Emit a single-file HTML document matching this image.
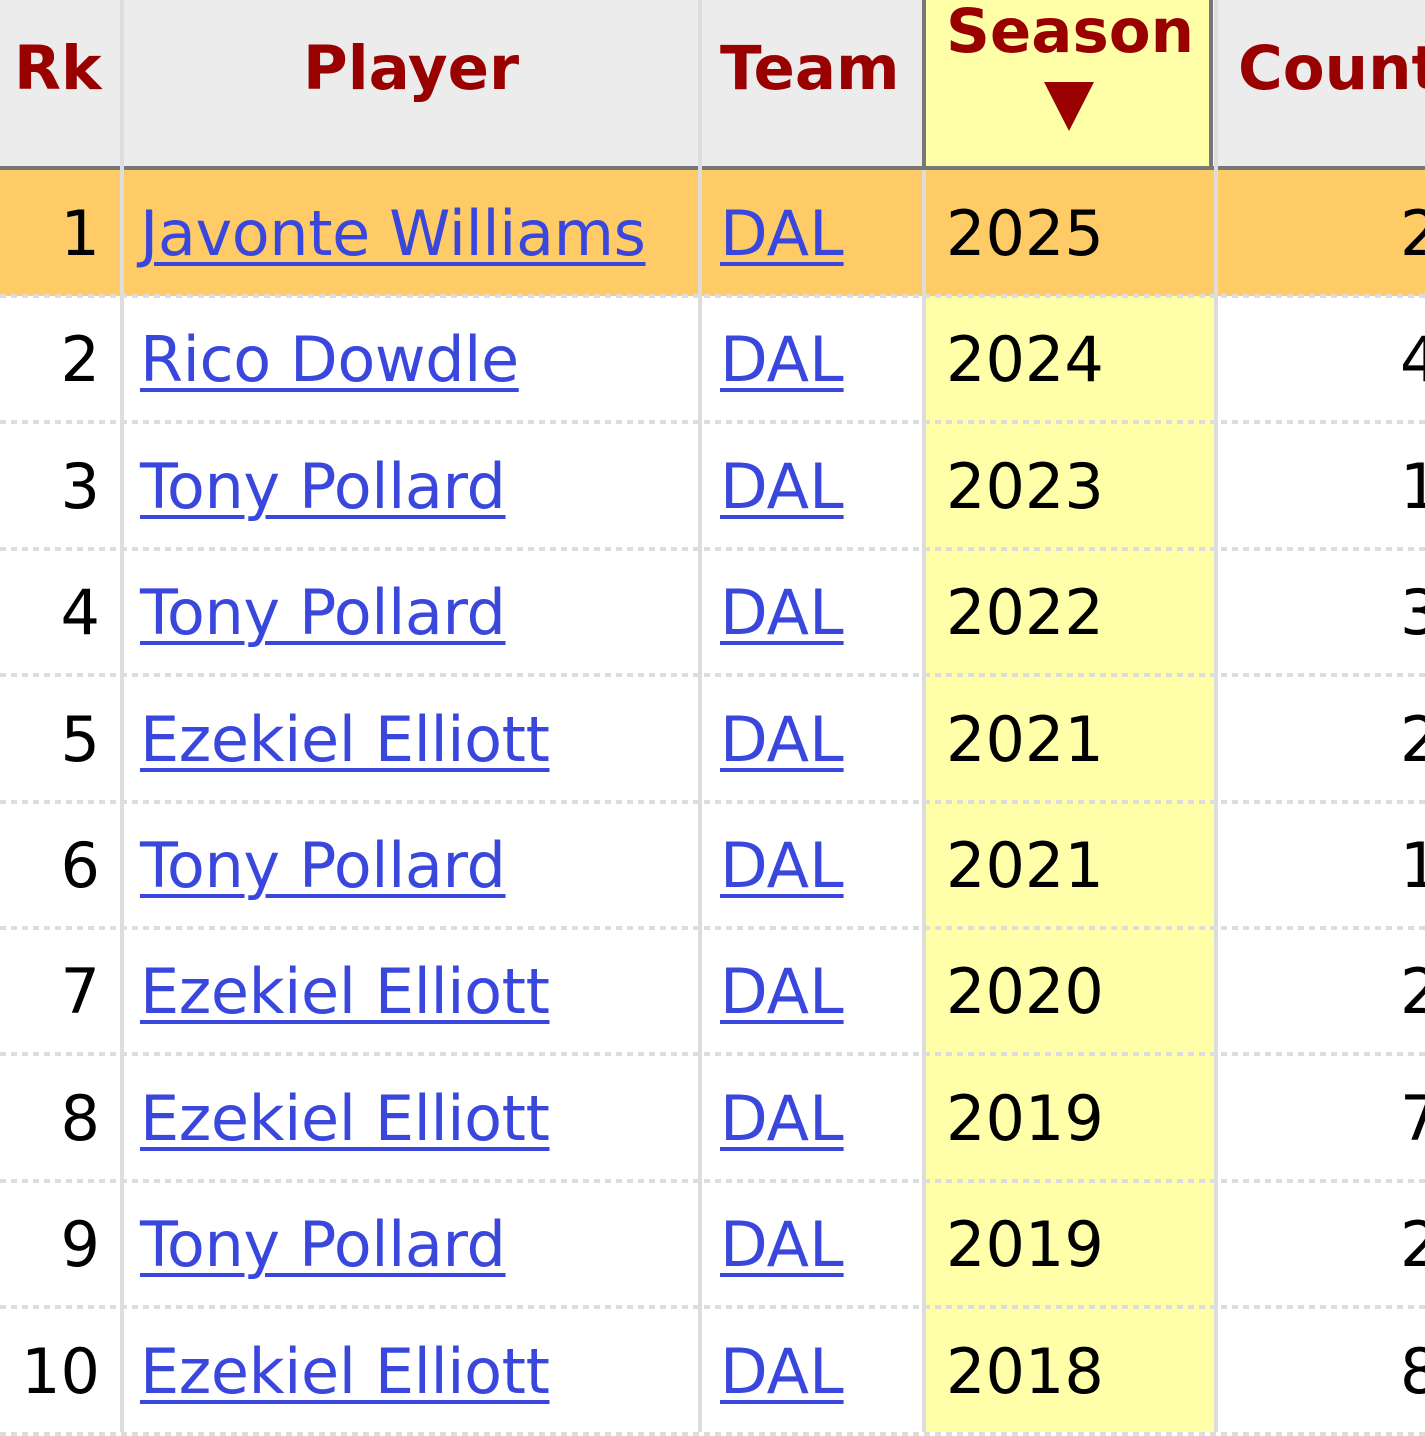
<!DOCTYPE html>
<html><head><meta charset="utf-8"><style>
*{margin:0;padding:0;box-sizing:border-box}
body{width:1425px;height:1432px;overflow:hidden;background:#fff;position:relative;font-family:"DejaVu Sans","Liberation Sans",sans-serif}
.a{position:absolute}
.hd{position:absolute;top:0;height:166px;background:#ececec}
.ht{position:absolute;color:#990000;font-weight:bold;font-size:61px;line-height:1;white-space:nowrap}
.t{position:absolute;font-size:62px;line-height:1;white-space:nowrap;color:#000}
.l{color:#3a47dd;text-decoration:underline;text-decoration-thickness:4px;text-underline-offset:7px}
.dot{position:absolute;left:0;width:1425px;height:4px;background:repeating-linear-gradient(90deg,#ddd 0 6px,transparent 6px 11px)}
.vl{position:absolute;top:0;width:4px;height:1432px;background:#ddd}
</style></head><body>
<div class="hd" style="left:0;width:1425px"></div>
<div class="a" style="left:924px;top:0;width:290px;height:1432px;background:#ffffaa"></div>
<div class="a" style="left:922px;top:0;width:291px;height:168px;background:#ffffa8;border:4px solid #777;border-top:none;border-bottom:none"></div>
<div class="a" style="left:0;top:166px;width:1425px;height:4px;background:#777"></div>
<div class="a" style="left:0;top:170px;width:1425px;height:126px;background:#fecb66"></div>
<div class="vl" style="left:120px"></div>
<div class="vl" style="left:698px"></div>
<div class="vl" style="left:922px;top:170px;height:1262px"></div>
<div class="vl" style="left:1214px"></div>
<div class="ht" style="left:14px;top:38px">Rk</div>
<div class="ht" style="left:303px;top:38px">Player</div>
<div class="ht" style="left:720px;top:38px">Team</div>
<div class="ht" style="left:946px;top:1px">Season</div>
<svg class="a" style="left:1044px;top:82px" width="50" height="50"><polygon points="0,0 50,0 25,49" fill="#990000"/></svg>
<div class="ht" style="left:1238px;top:38px">Count</div>
<div id="rows"></div>
<script>
var d=[["1","Javonte Williams","2025","2"],["2","Rico Dowdle","2024","4"],["3","Tony Pollard","2023","1"],["4","Tony Pollard","2022","3"],["5","Ezekiel Elliott","2021","2"],["6","Tony Pollard","2021","1"],["7","Ezekiel Elliott","2020","2"],["8","Ezekiel Elliott","2019","7"],["9","Tony Pollard","2019","2"],["10","Ezekiel Elliott","2018","8"]];
var h="";
for(var i=0;i<10;i++){var rt=170+i*126.4;var y=rt+86-53;
h+='<div class="t" style="right:1325px;top:'+y+'px">'+d[i][0]+'</div>';
h+='<div class="t l" style="left:140px;top:'+y+'px;letter-spacing:-0.4px">'+d[i][1]+'</div>';
h+='<div class="t l" style="left:720px;top:'+y+'px">DAL</div>';
h+='<div class="t" style="left:946px;top:'+y+'px">'+d[i][2]+'</div>';
h+='<div class="t" style="left:1400px;top:'+y+'px">'+d[i][3]+'</div>';
h+='<div class="dot" style="top:'+(rt+124)+'px"></div>';}
document.getElementById("rows").innerHTML=h;
</script>
</body></html>
